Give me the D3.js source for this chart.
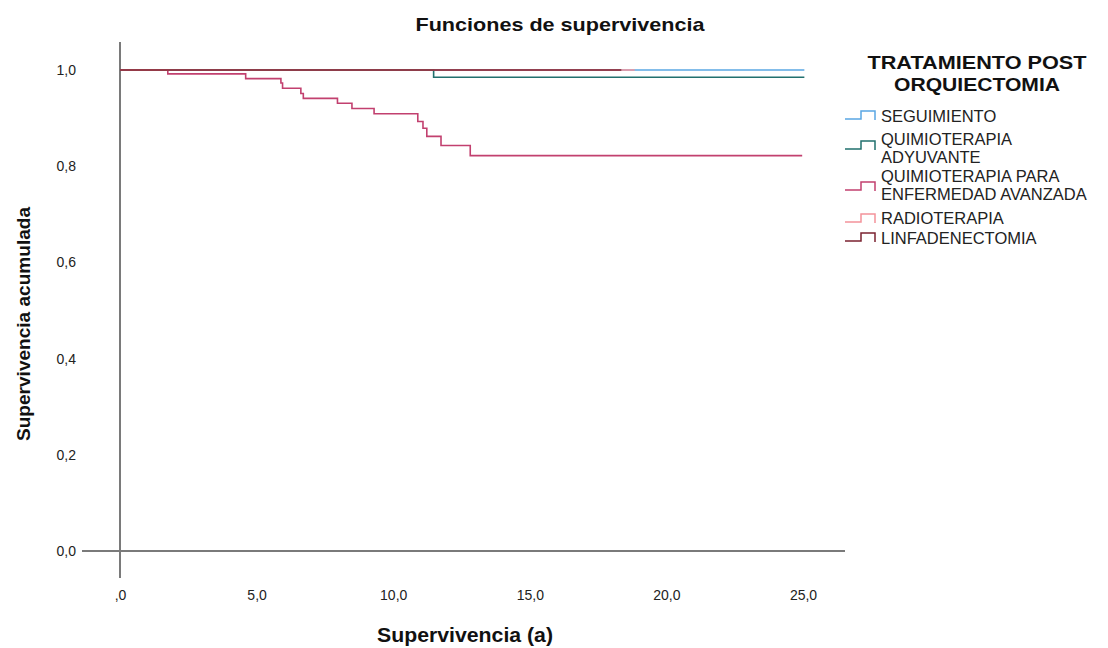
<!DOCTYPE html>
<meta charset="utf-8">
<style>

body {
  margin: 0;
  background: #fff;
}

text {
  font-family: "Liberation Sans", Arial, sans-serif;
}

</style>
<svg></svg>
<script src="https://d3js.org/d3.v7.min.js"></script>
<script>

var width = 1108,
    height = 648;

// Kaplan-Meier steps (time in years, cumulative survival)
var seguimientoT = [0, 25.05],
    seguimientoS = [1, 1];

var adyuvanteT = [0, 11.48, 25.05],
    adyuvanteS = [1, 0.985, 0.985];

var avanzadaT = [0, 1.75, 4.60, 5.89, 5.95, 6.62, 6.71, 7.96, 8.49, 9.30, 10.90, 11.09, 11.23, 11.75, 12.82, 24.97],
    avanzadaS = [1, 0.992, 0.982, 0.973, 0.962, 0.951, 0.941, 0.931, 0.920, 0.909, 0.893, 0.879, 0.862, 0.843, 0.822, 0.822];

var radioT = [0, 18.84],
    radioS = [1, 1];

var linfT = [0, 18.35],
    linfS = [1, 1];

var groupNames = ["SEGUIMIENTO", "QUIMIOTERAPIA ADYUVANTE", "QUIMIOTERAPIA PARA ENFERMEDAD AVANZADA", "RADIOTERAPIA", "LINFADENECTOMIA"];
var groupLines = [["SEGUIMIENTO"], ["QUIMIOTERAPIA", "ADYUVANTE"], ["QUIMIOTERAPIA PARA", "ENFERMEDAD AVANZADA"], ["RADIOTERAPIA"], ["LINFADENECTOMIA"]];
var groupColors = ["#5aa7e3", "#21706e", "#c2406f", "#f4939a", "#7b2230"];

var xTicks = [0, 5, 10, 15, 20, 25],
    yTicks = [0, 0.2, 0.4, 0.6, 0.8, 1.0];

var series = [
  {t: seguimientoT, s: seguimientoS},
  {t: adyuvanteT, s: adyuvanteS},
  {t: avanzadaT, s: avanzadaS},
  {t: radioT, s: radioS},
  {t: linfT, s: linfS}
];

var x = d3.scaleLinear().domain([0, 25]).range([120, 803]);
var y = d3.scaleLinear().domain([0, 1]).range([551, 70]);

var svg = d3.select("svg")
    .attr("width", width)
    .attr("height", height);

var fmt = function(v) {
  return d3.format(".1f")(v).replace(".", ",");
};

// title
svg.append("text")
    .attr("x", 560)
    .attr("y", 31)
    .attr("text-anchor", "middle")
    .attr("textLength", 289)
    .attr("lengthAdjust", "spacingAndGlyphs")
    .style("font-size", "19px")
    .style("font-weight", "bold")
    .attr("fill", "#111")
    .text("Funciones de supervivencia");

// axes lines
svg.append("line")
    .attr("x1", 82).attr("x2", 845)
    .attr("y1", y(0)).attr("y2", y(0))
    .attr("stroke", "#7a7a7a").attr("stroke-width", 2);

svg.append("line")
    .attr("x1", x(0)).attr("x2", x(0))
    .attr("y1", 42).attr("y2", 578)
    .attr("stroke", "#7a7a7a").attr("stroke-width", 2);

// tick labels (no tick marks in the original)
var xAxis = d3.axisBottom(x).tickValues(xTicks).tickSize(0)
    .tickFormat(function(d) { return d === 0 ? ",0" : fmt(d); });
var gx = svg.append("g").attr("transform", "translate(0,587)").call(xAxis);
gx.select(".domain").remove();
gx.selectAll("text")
    .style("font-family", "'Liberation Sans', Arial, sans-serif")
    .style("font-size", "14px")
    .attr("fill", "#222");

var yAxis = d3.axisLeft(y).tickValues(yTicks).tickSize(0).tickFormat(fmt);
var gy = svg.append("g").attr("transform", "translate(79,0)").call(yAxis);
gy.select(".domain").remove();
gy.selectAll("text")
    .style("font-family", "'Liberation Sans', Arial, sans-serif")
    .style("font-size", "14px")
    .attr("fill", "#222");

// axis titles
svg.append("text")
    .attr("x", 465)
    .attr("y", 642)
    .attr("text-anchor", "middle")
    .attr("textLength", 176)
    .attr("lengthAdjust", "spacingAndGlyphs")
    .style("font-size", "20px")
    .style("font-weight", "bold")
    .attr("fill", "#111")
    .text("Supervivencia (a)");

svg.append("text")
    .attr("transform", "translate(30,324) rotate(-90)")
    .attr("text-anchor", "middle")
    .attr("textLength", 234)
    .attr("lengthAdjust", "spacingAndGlyphs")
    .style("font-size", "19px")
    .style("font-weight", "bold")
    .attr("fill", "#111")
    .text("Supervivencia acumulada");

// survival curves
var line = d3.line()
    .x(function(d) { return x(d[0]); })
    .y(function(d) { return y(d[1]); })
    .curve(d3.curveStepAfter);

svg.append("g")
  .selectAll("path")
  .data(series)
  .enter().append("path")
    .attr("d", function(d) { return line(d3.zip(d.t, d.s)); })
    .attr("fill", "none")
    .attr("stroke", function(d, i) { return groupColors[i]; })
    .attr("stroke-width", 1.6);

// legend
var legend = svg.append("g");

legend.append("text")
    .attr("x", 977).attr("y", 69)
    .attr("text-anchor", "middle")
    .attr("textLength", 219)
    .attr("lengthAdjust", "spacingAndGlyphs")
    .style("font-size", "19px")
    .style("font-weight", "bold")
    .attr("fill", "#111")
    .text("TRATAMIENTO POST");

legend.append("text")
    .attr("x", 977).attr("y", 91)
    .attr("text-anchor", "middle")
    .attr("textLength", 166)
    .attr("lengthAdjust", "spacingAndGlyphs")
    .style("font-size", "19px")
    .style("font-weight", "bold")
    .attr("fill", "#111")
    .text("ORQUIECTOMIA");

var itemBase = [122, 145, 182, 224, 244],
    iconLow = [119, 149, 190, 222, 241],
    lineGap = 18;

var item = legend.selectAll("g.item")
    .data(groupNames)
  .enter().append("g")
    .attr("class", "item");

item.append("path")
    .attr("d", function(d, i) {
      var lo = iconLow[i];
      return "M845," + lo + "H861V" + (lo - 8) + "H875V" + (lo + 1);
    })
    .attr("fill", "none")
    .attr("stroke", function(d, i) { return groupColors[i]; })
    .attr("stroke-width", 1.5);

item.each(function(d, i) {
  var g = d3.select(this);
  groupLines[i].forEach(function(t, j) {
    g.append("text")
        .attr("x", 881)
        .attr("y", itemBase[i] + j * lineGap)
        .style("font-size", "16.5px")
        .attr("fill", "#222")
        .text(t);
  });
});

</script>
